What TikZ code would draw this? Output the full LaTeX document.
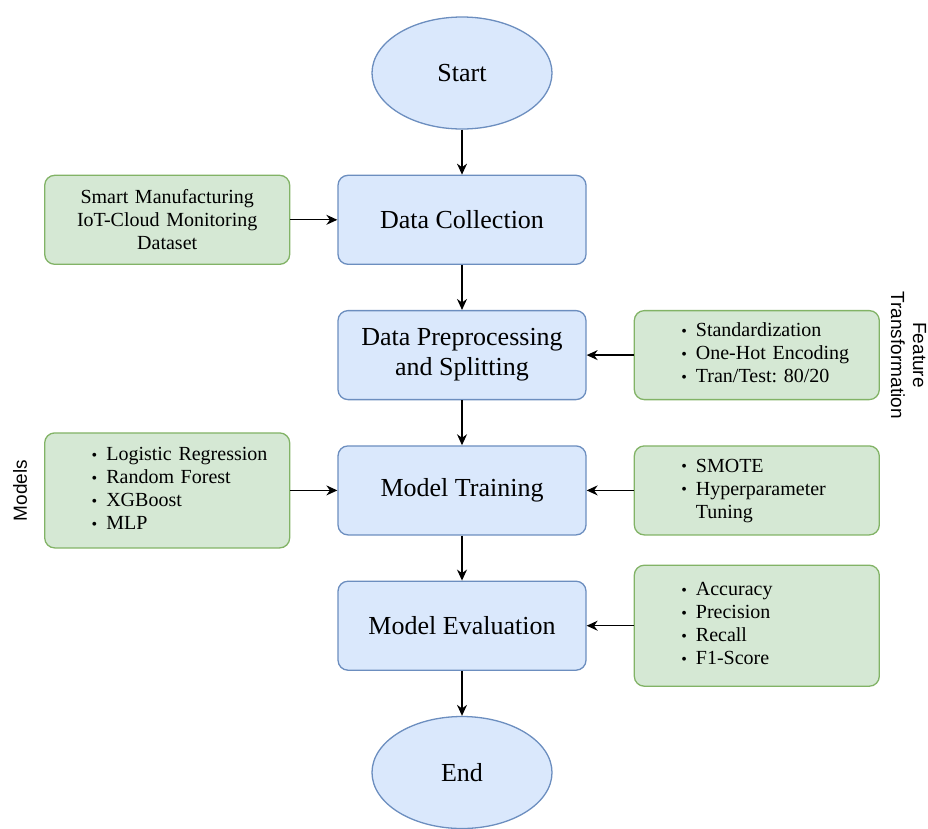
\documentclass[tikz,border=0pt]{standalone}
\usepackage{fontspec}
\setmainfont{Liberation Serif}
\newfontfamily\notefont{Liberation Sans}
\usetikzlibrary{arrows.meta, positioning, shapes.geometric}
\frenchspacing
\definecolor{stepfill}{HTML}{DAE8FC}
\definecolor{stepline}{HTML}{6C8EBF}
\definecolor{sidefill}{HTML}{D5E8D4}
\definecolor{sideline}{HTML}{82B366}
\tikzset{process/.style={draw=stepline,fill=stepfill,rounded corners=10pt,minimum width=248pt,minimum height=89pt,align=center,font=\fontsize{26}{30}\selectfont}}
\tikzset{terminal/.style={draw=stepline,fill=stepfill,ellipse,inner sep=0pt,minimum width=180pt,minimum height=112pt,font=\fontsize{26}{30}\selectfont}}
\tikzset{side/.style={draw=sideline,fill=sidefill,rounded corners=10pt,minimum width=245pt,minimum height=89pt,inner xsep=0pt,text width=245pt,align=left,font=\fontsize{20}{23}\selectfont}}
\tikzset{note/.style={font=\notefont\fontsize{19}{22}\selectfont}}
\newcommand{\dotmark}{\raisebox{0.5pt}{\fontsize{16}{16}\selectfont\textbullet}}
\newcommand{\itemlist}[1]{\hspace*{47pt}\begin{tabular}{@{}l@{\hspace{9pt}}l@{}}#1\end{tabular}}

\begin{document}
\begin{tikzpicture}[
x = 1pt, y = -1pt,
> = {Stealth[length=11pt,width=10pt]}, % arrow head style
node distance = 45pt and 47pt, % distance between nodes
line width = 1.3pt
]
\useasboundingbox (0,0) rectangle (928,828);

\node[terminal] (start) at (462,73) {Start};
\node[process] (collect) [below=of start] {Data Collection};
\node[process] (prep) [below=of collect] {Data Preprocessing\\and Splitting};
\node[process] (train) [below=of prep] {Model Training};
\node[process] (eval) [below=of train] {Model Evaluation};
\node[terminal] (stop) [below=of eval] {End};

\node[side, align=center] (source) [left=of collect] {Smart Manufacturing\\IoT-Cloud Monitoring\\Dataset};
\node[side] (encode) [right=of prep] {\itemlist{\dotmark & Standardization\\ \dotmark & One-Hot Encoding\\ \dotmark & Tran/Test: 80/20}};
\node[side, minimum height=115pt] (models) [left=of train] {\itemlist{\dotmark & Logistic Regression\\ \dotmark & Random Forest\\ \dotmark & XGBoost\\ \dotmark & MLP}};
\node[side] (balance) [right=of train] {\itemlist{\dotmark & SMOTE\\ \dotmark & Hyperparameter\\ & Tuning}};
\node[side, minimum height=121pt] (metrics) [right=of eval] {\itemlist{\dotmark & Accuracy\\ \dotmark & Precision\\ \dotmark & Recall\\ \dotmark & F1-Score}};

\node[note, rotate=90, anchor=south] (modelsnote) at ([xshift=-13pt]models.west) {Models};
\node[note, rotate=-90, anchor=south, align=center] (featurenote) at ([xshift=7pt]encode.east) {Feature\\Transformation};

\path[->] (start) edge (collect);
\path[->] (collect) edge (prep);
\path[->] (prep) edge (train);
\path[->] (train) edge (eval);
\path[->] (eval) edge (stop);
\path[->] (source) edge (collect);
\path[->] (encode) edge (prep);
\path[->] (models) edge (train);
\path[->] (balance) edge (train);
\path[->] (metrics) edge (eval);
\end{tikzpicture}
\end{document}
